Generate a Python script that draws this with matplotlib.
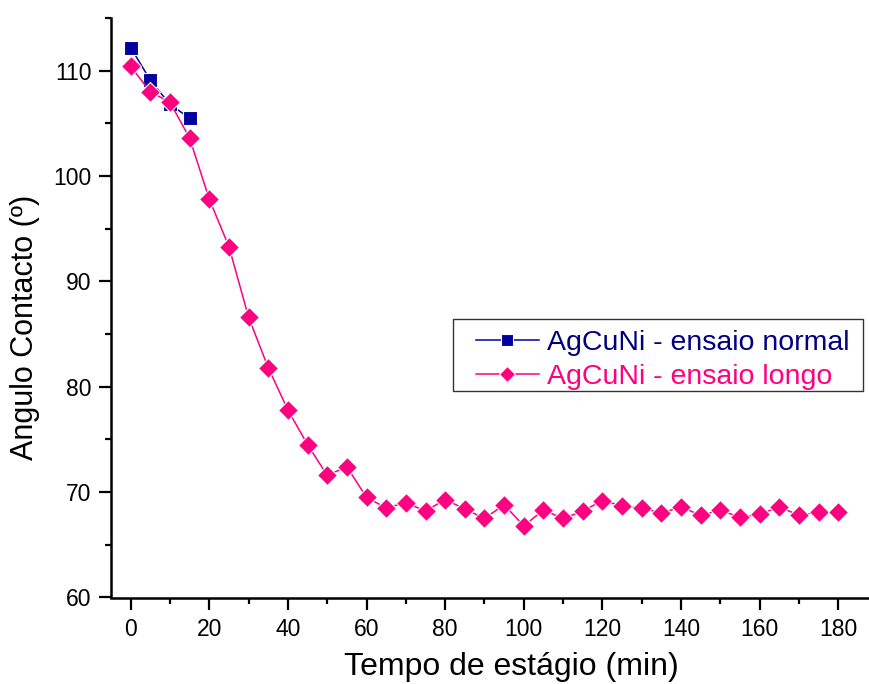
import matplotlib
matplotlib.use("Agg")
import matplotlib.pyplot as plt
from matplotlib.ticker import MultipleLocator
from matplotlib.patches import Rectangle

plt.rcParams['font.family'] = ['Liberation Sans', 'DejaVu Sans']

# Contact angle vs. stage time
t_normal = [0, 5, 10, 15]
ang_normal = [112.2, 109.1, 106.8, 105.5]

t_longo = [0, 5, 10, 15, 20, 25, 30, 35, 40, 45, 50, 55, 60, 65, 70, 75, 80,
           85, 90, 95, 100, 105, 110, 115, 120, 125, 130, 135, 140, 145, 150,
           155, 160, 165, 170, 175, 180]
ang_longo = [110.4, 108.0, 107.0, 103.6, 97.8, 93.3, 86.6, 81.8, 77.8, 74.5,
             71.6, 72.4, 69.5, 68.5, 69.0, 68.2, 69.3, 68.4, 67.5, 68.8, 66.8,
             68.3, 67.5, 68.2, 69.2, 68.7, 68.5, 68.0, 68.6, 67.8, 68.3, 67.6,
             67.9, 68.6, 67.8, 68.1, 68.1]

x_ticks = [0, 20, 40, 60, 80, 100, 120, 140, 160, 180]
y_ticks = [60, 70, 80, 90, 100, 110]

label_normal = "AgCuNi - ensaio normal"
label_longo = "AgCuNi - ensaio longo"
x_label = "Tempo de estágio (min)"
y_label = "Angulo Contacto (º)"

blue = "#0000A0"
pink = "#FF0080"

W, H = 869, 684
fig = plt.figure(figsize=(W / 100, H / 100), dpi=100)
left_px, right_px, top_px, bottom_px = 111, 877.6, 18, 597.5
ax = fig.add_axes([left_px / W, 1 - bottom_px / H,
                   (right_px - left_px) / W, (bottom_px - top_px) / H])

ax.plot(t_normal, ang_normal, color=blue, lw=1.1, marker='s', ms=9.6,
        mfc=blue, mec='white', mew=0.8, label=label_normal, zorder=3)
ax.plot(t_longo, ang_longo, color=pink, lw=1.1, marker='D', ms=10.0,
        mfc=pink, mec='white', mew=0.8, label=label_longo, zorder=4)

ax.set_xlim(-5, 190)
ax.set_ylim(60, 115)
ax.set_xticks(x_ticks)
ax.set_yticks(y_ticks)
ax.xaxis.set_minor_locator(MultipleLocator(10))
ax.yaxis.set_minor_locator(MultipleLocator(5))

for side in ('top', 'right'):
    ax.spines[side].set_visible(False)
for side in ('left', 'bottom'):
    ax.spines[side].set_linewidth(1.8)

ax.tick_params(which='major', direction='out', length=8.6, width=1.6,
               labelsize=16.5, colors='black')
ax.tick_params(axis='x', which='major', pad=6.0)
ax.tick_params(axis='y', which='major', pad=5.5)
ax.tick_params(which='minor', direction='out', length=4.3, width=1.6)

ax.set_xlabel(x_label, fontsize=23, va='baseline')
ax.xaxis.set_label_coords(0.522, -0.1330)
ax.set_ylabel(y_label, fontsize=22, va='center', ha='center')
ax.yaxis.set_label_coords(-0.1122, 0.4668)

leg = ax.legend(loc='upper left', frameon=False, fontsize=20.5,
                bbox_to_anchor=(476 / W, 1 - 330 / H),
                bbox_transform=fig.transFigure, borderpad=0,
                borderaxespad=0, handlelength=2.2, handletextpad=0.29,
                labelspacing=0.27, markerscale=0.85)
for txt, col in zip(leg.get_texts(), ["#000080", pink]):
    txt.set_color(col)

fig.patches.append(Rectangle((453.3 / W, 1 - 391 / H), (862.7 - 453.3) / W,
                             (391 - 319.3) / H, transform=fig.transFigure,
                             fill=False, edgecolor='#333333', linewidth=1.0))

fig.savefig("out.png", dpi=100, facecolor='white')
